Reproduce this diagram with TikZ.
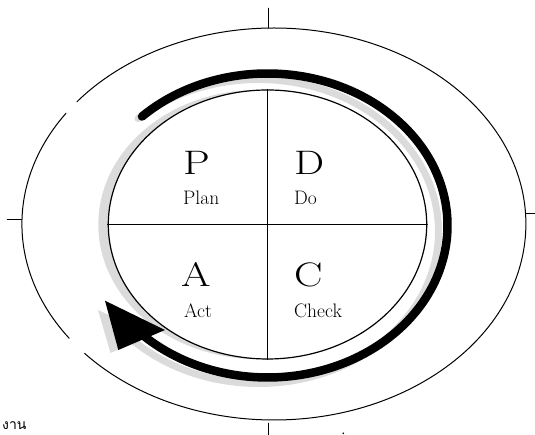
\documentclass[tikz,border=0pt]{standalone}
\usepackage{fontspec}
\newfontfamily\thaifont[Script=Thai]{Loma}
\usetikzlibrary{shapes.geometric}
\newcommand{\widecap}[1]{\scalebox{1.25}[1]{#1}}

\begin{document}
\begin{tikzpicture}[x=1pt,y=1pt,line cap=round,line join=round,
    letter/.style={anchor=base west,inner sep=0pt,font=\fontsize{34}{34}\selectfont},
    word/.style={anchor=base west,inner sep=0pt,font=\fontsize{19.5}{20}\selectfont},
    shadow/.style={black!14}]
  \useasboundingbox (0,0) rectangle (535,435);

  % shadow of the disc and of the arrow
  \fill[shadow] (257.5,210.5) ellipse[x radius=159.2pt,y radius=134.5pt];
  \begin{scope}[shift={(-9,-6)}]
    \draw[shadow,line width=7pt] (267.5,209.5) ++(132:180pt and 152pt)
      arc[start angle=132,end angle=-136,x radius=180pt,y radius=152pt];
    \fill[shadow] (107,131) -- (119.5,88) -- (161,106) -- cycle;
  \end{scope}

  % outer ring, broken on the left
  \coordinate (O) at (273.9,211);
  \draw[line width=1pt] (O) ++(221.3:252pt and 196pt)
    arc[start angle=221.3,end angle=501.4,x radius=252pt,y radius=196pt];
  \draw[line width=1pt] (O) ++(145.6:252pt and 196pt)
    arc[start angle=145.6,end angle=215.7,x radius=252pt,y radius=196pt];

  % ticks
  \draw (268.3,427) -- (268.3,407);
  \draw (7,216) -- (22,216);
  \draw (526,222) -- (535,222);
  \draw (268,12) -- (268,0);
  \fill (343.3,1.7) circle[radius=0.9pt];

  % the PDCA disc
  \node[ellipse,draw,line width=1.2pt,fill=white,minimum width=318.4pt,
    minimum height=269pt,inner sep=0pt] (pdca) at (267.5,210.5) {};
  \draw[line width=1.2pt] (pdca.north) -- (pdca.south);
  \draw[line width=1pt] (pdca.west) -- (pdca.east);

  % arrow
  \draw[line width=8.5pt] (267.5,209.5) ++(134.2:180pt and 152pt)
    arc[start angle=134.2,end angle=-136,x radius=180pt,y radius=152pt];
  \fill (105,134.3) -- (118.3,85) -- (165,105) -- cycle;

  \node[letter] (P) at (183,260) {\widecap{P}};
  \node[word] (plan) at (183,230) {Plan};
  \node[letter] (D) at (294,260) {\widecap{D}};
  \node[word] (do) at (294,230) {Do};
  \node[letter] (A) at (181,148) {\widecap{A}};
  \node[word] (act) at (184,117) {Act};
  \node[letter] (C) at (294,148) {\widecap{C}};
  \node[word] (check) at (294,117) {Check};
  \node[anchor=base west,inner sep=0pt,font=\thaifont\fontsize{14}{14}\selectfont] (job) at (2,5) {งาน};
\end{tikzpicture}
\end{document}
